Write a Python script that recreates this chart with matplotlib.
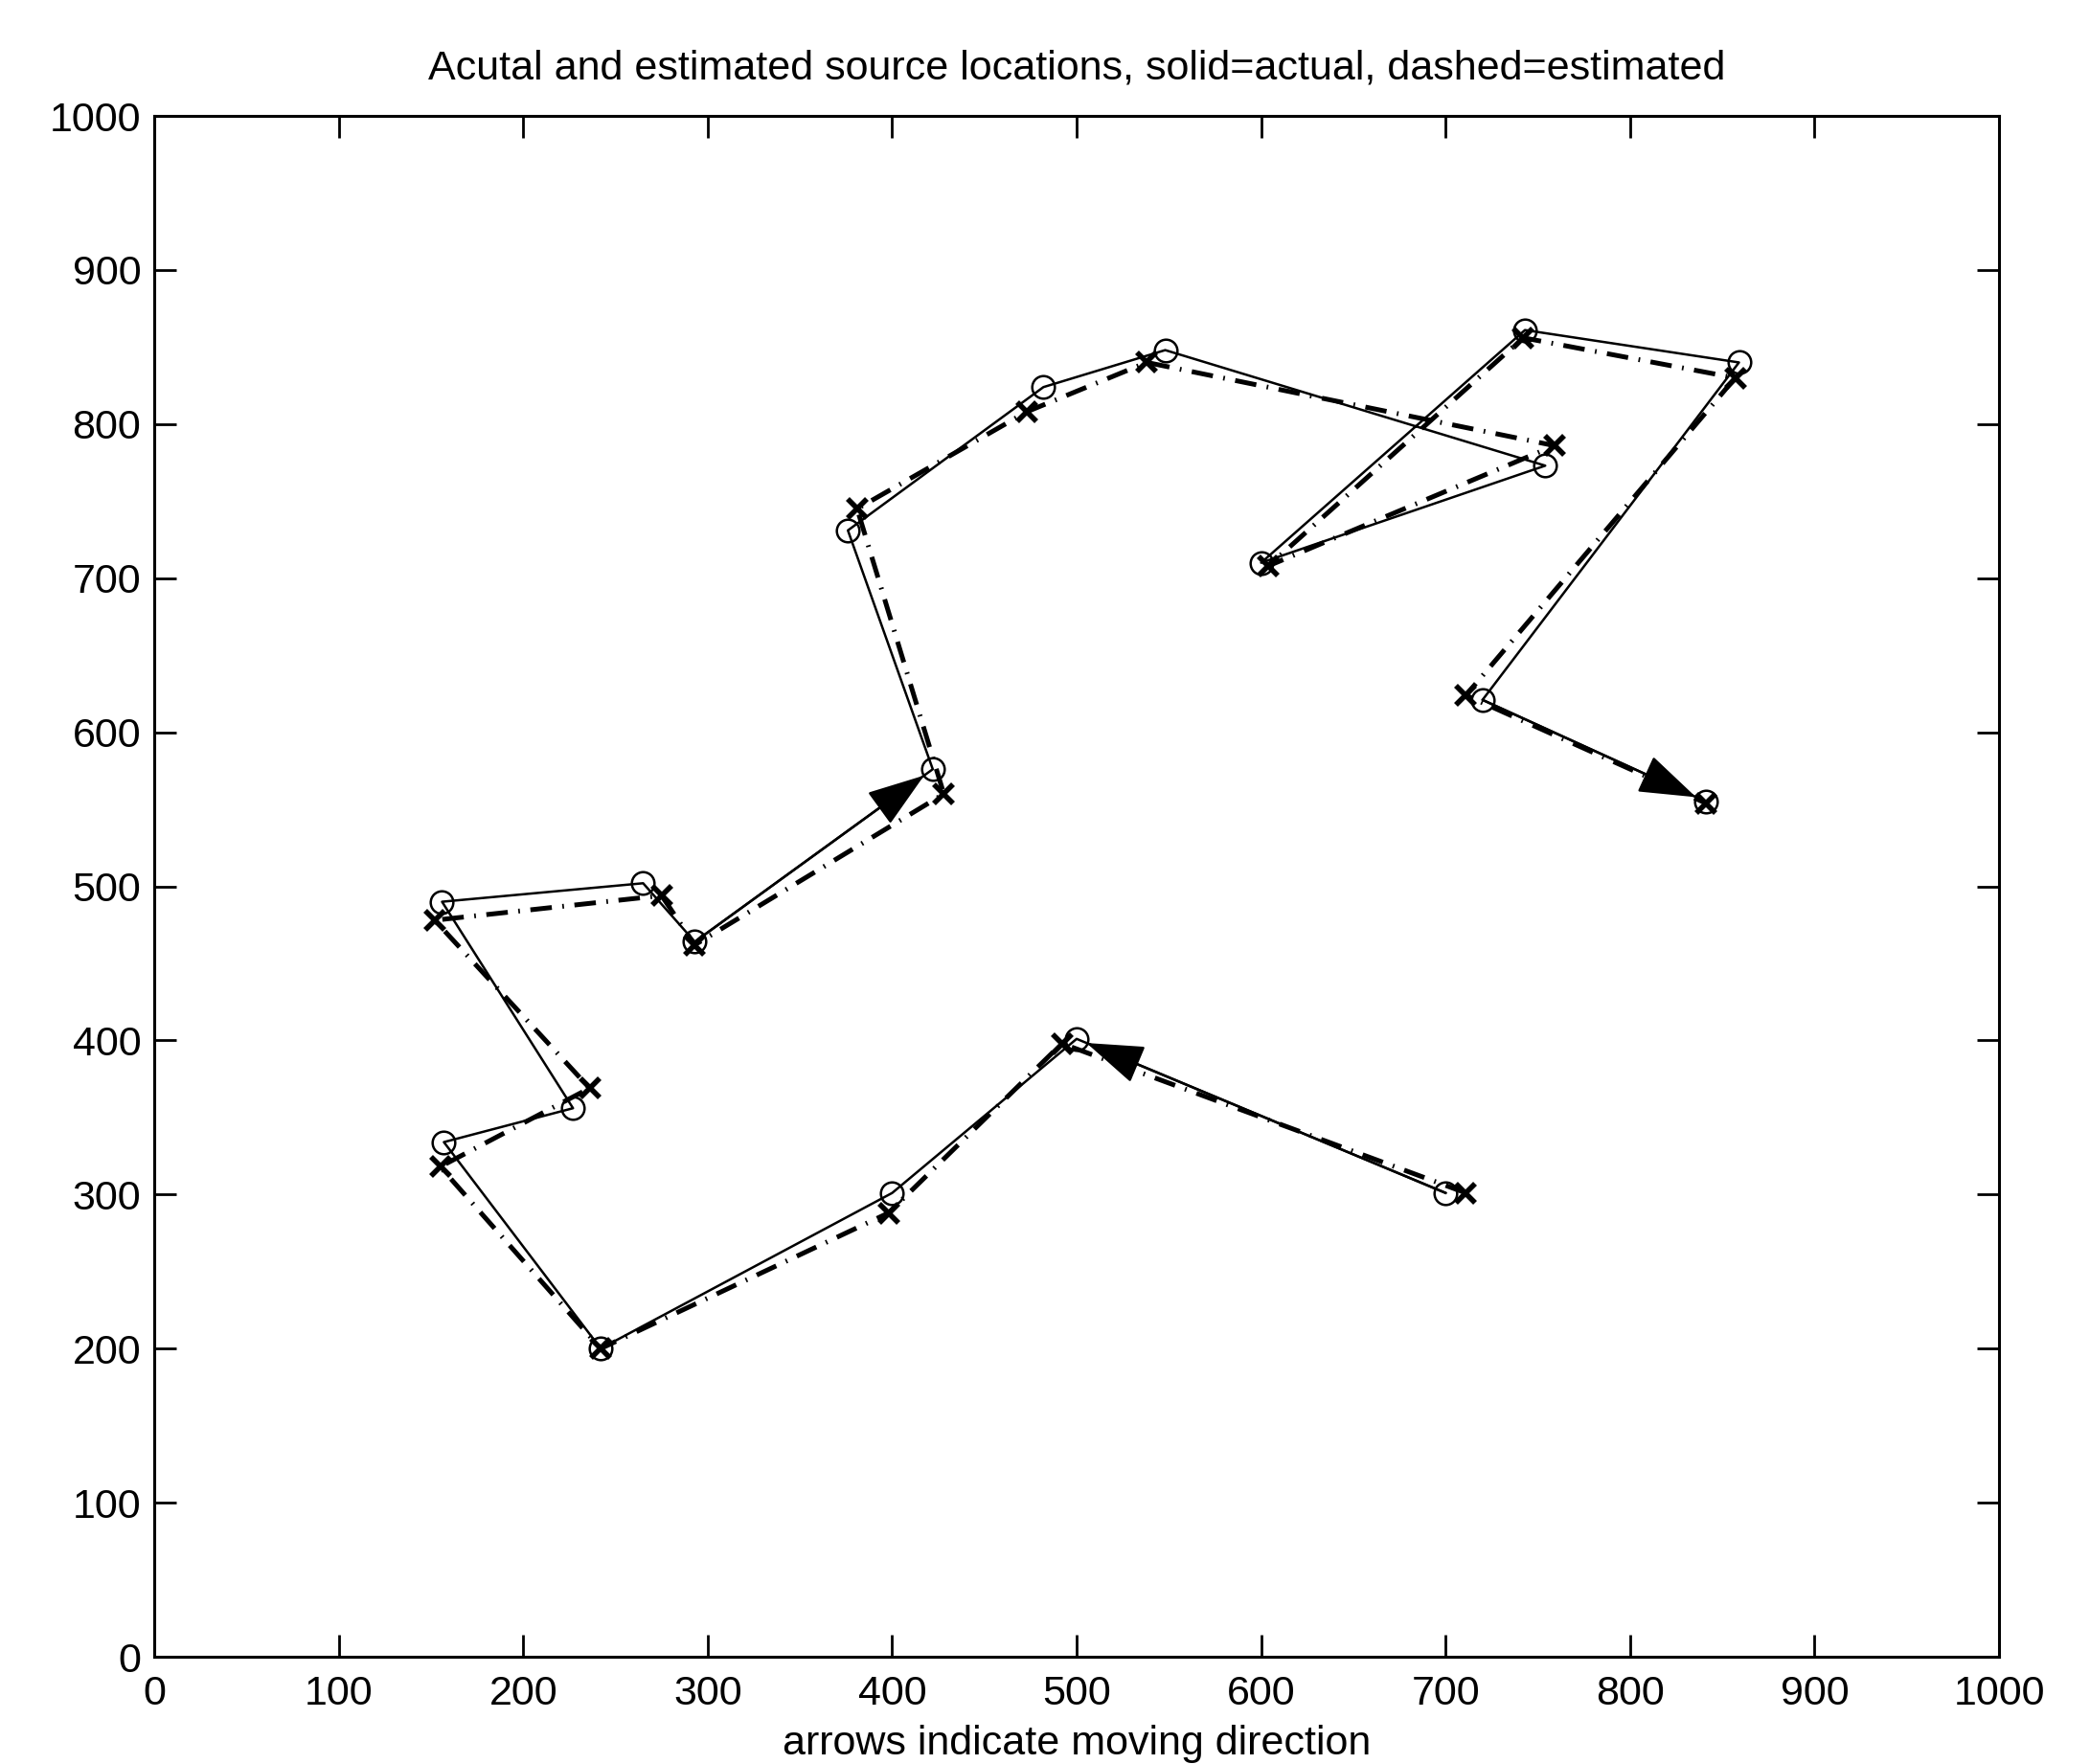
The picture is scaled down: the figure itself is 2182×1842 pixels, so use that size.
import matplotlib
matplotlib.use("Agg")
import matplotlib.pyplot as plt
from matplotlib.patches import FancyArrowPatch

plt.rcParams['font.family'] = ['Liberation Sans', 'DejaVu Sans']

# actual source path (circles, solid line)
act_x = [700, 500, 400, 242, 157, 227, 156, 265, 293, 422, 376, 482, 548, 754, 600, 743, 859, 720, 841]
act_y = [301, 401, 301, 200, 334, 356, 490, 502, 464, 576, 731, 824, 848, 773, 710, 861, 840, 621, 555]

# estimated source path (x markers, dash-dot line)
est_x = [711, 492, 398, 242, 155, 236, 152, 275, 293, 428, 381, 473, 538, 759, 604, 742, 857, 711, 841]
est_y = [301, 398, 288, 200, 318, 369, 478, 494, 462, 560, 745, 808, 840, 786, 708, 856, 830, 624, 554]

# segments that carry a direction arrow
arrow_segs = [0, 8, 17]

ticks = [0, 100, 200, 300, 400, 500, 600, 700, 800, 900, 1000]

fig = plt.figure(figsize=(21.82, 18.42), dpi=100)
ax = fig.add_axes([0.0738, 0.0608, 0.8827, 0.8735])

ax.plot(act_x, act_y, color='k', lw=1.8, ls='-', marker='o', ms=17,
        mfc='none', mec='k', mew=1.8, zorder=3)
ax.plot(est_x, est_y, color='k', lw=3.6, dashes=(4.5, 2.2, 0.35, 2.2),
        marker='x', ms=14, mew=4, zorder=2)

for i in arrow_segs:
    arr = FancyArrowPatch((act_x[i], act_y[i]), (act_x[i + 1], act_y[i + 1]),
                          arrowstyle='-|>,head_length=38,head_width=13',
                          mutation_scale=1, color='k', lw=1.8,
                          shrinkA=0, shrinkB=8, zorder=4)
    ax.add_patch(arr)

ax.set_xlim(0, 1000)
ax.set_ylim(0, 1000)
ax.set_xticks(ticks)
ax.set_yticks(ticks)
ax.tick_params(direction='in', length=16.5, width=2, top=True, right=True,
               labelsize=31)
ax.tick_params(axis='x', pad=14)
ax.tick_params(axis='y', pad=10)
for s in ax.spines.values():
    s.set_linewidth(2.2)

ax.set_title('Acutal and estimated source locations, solid=actual, dashed=estimated',
             fontsize=31, pad=28)
ax.set_xlabel('arrows indicate moving direction', fontsize=31, labelpad=8)

fig.savefig('out.png', dpi=100)
